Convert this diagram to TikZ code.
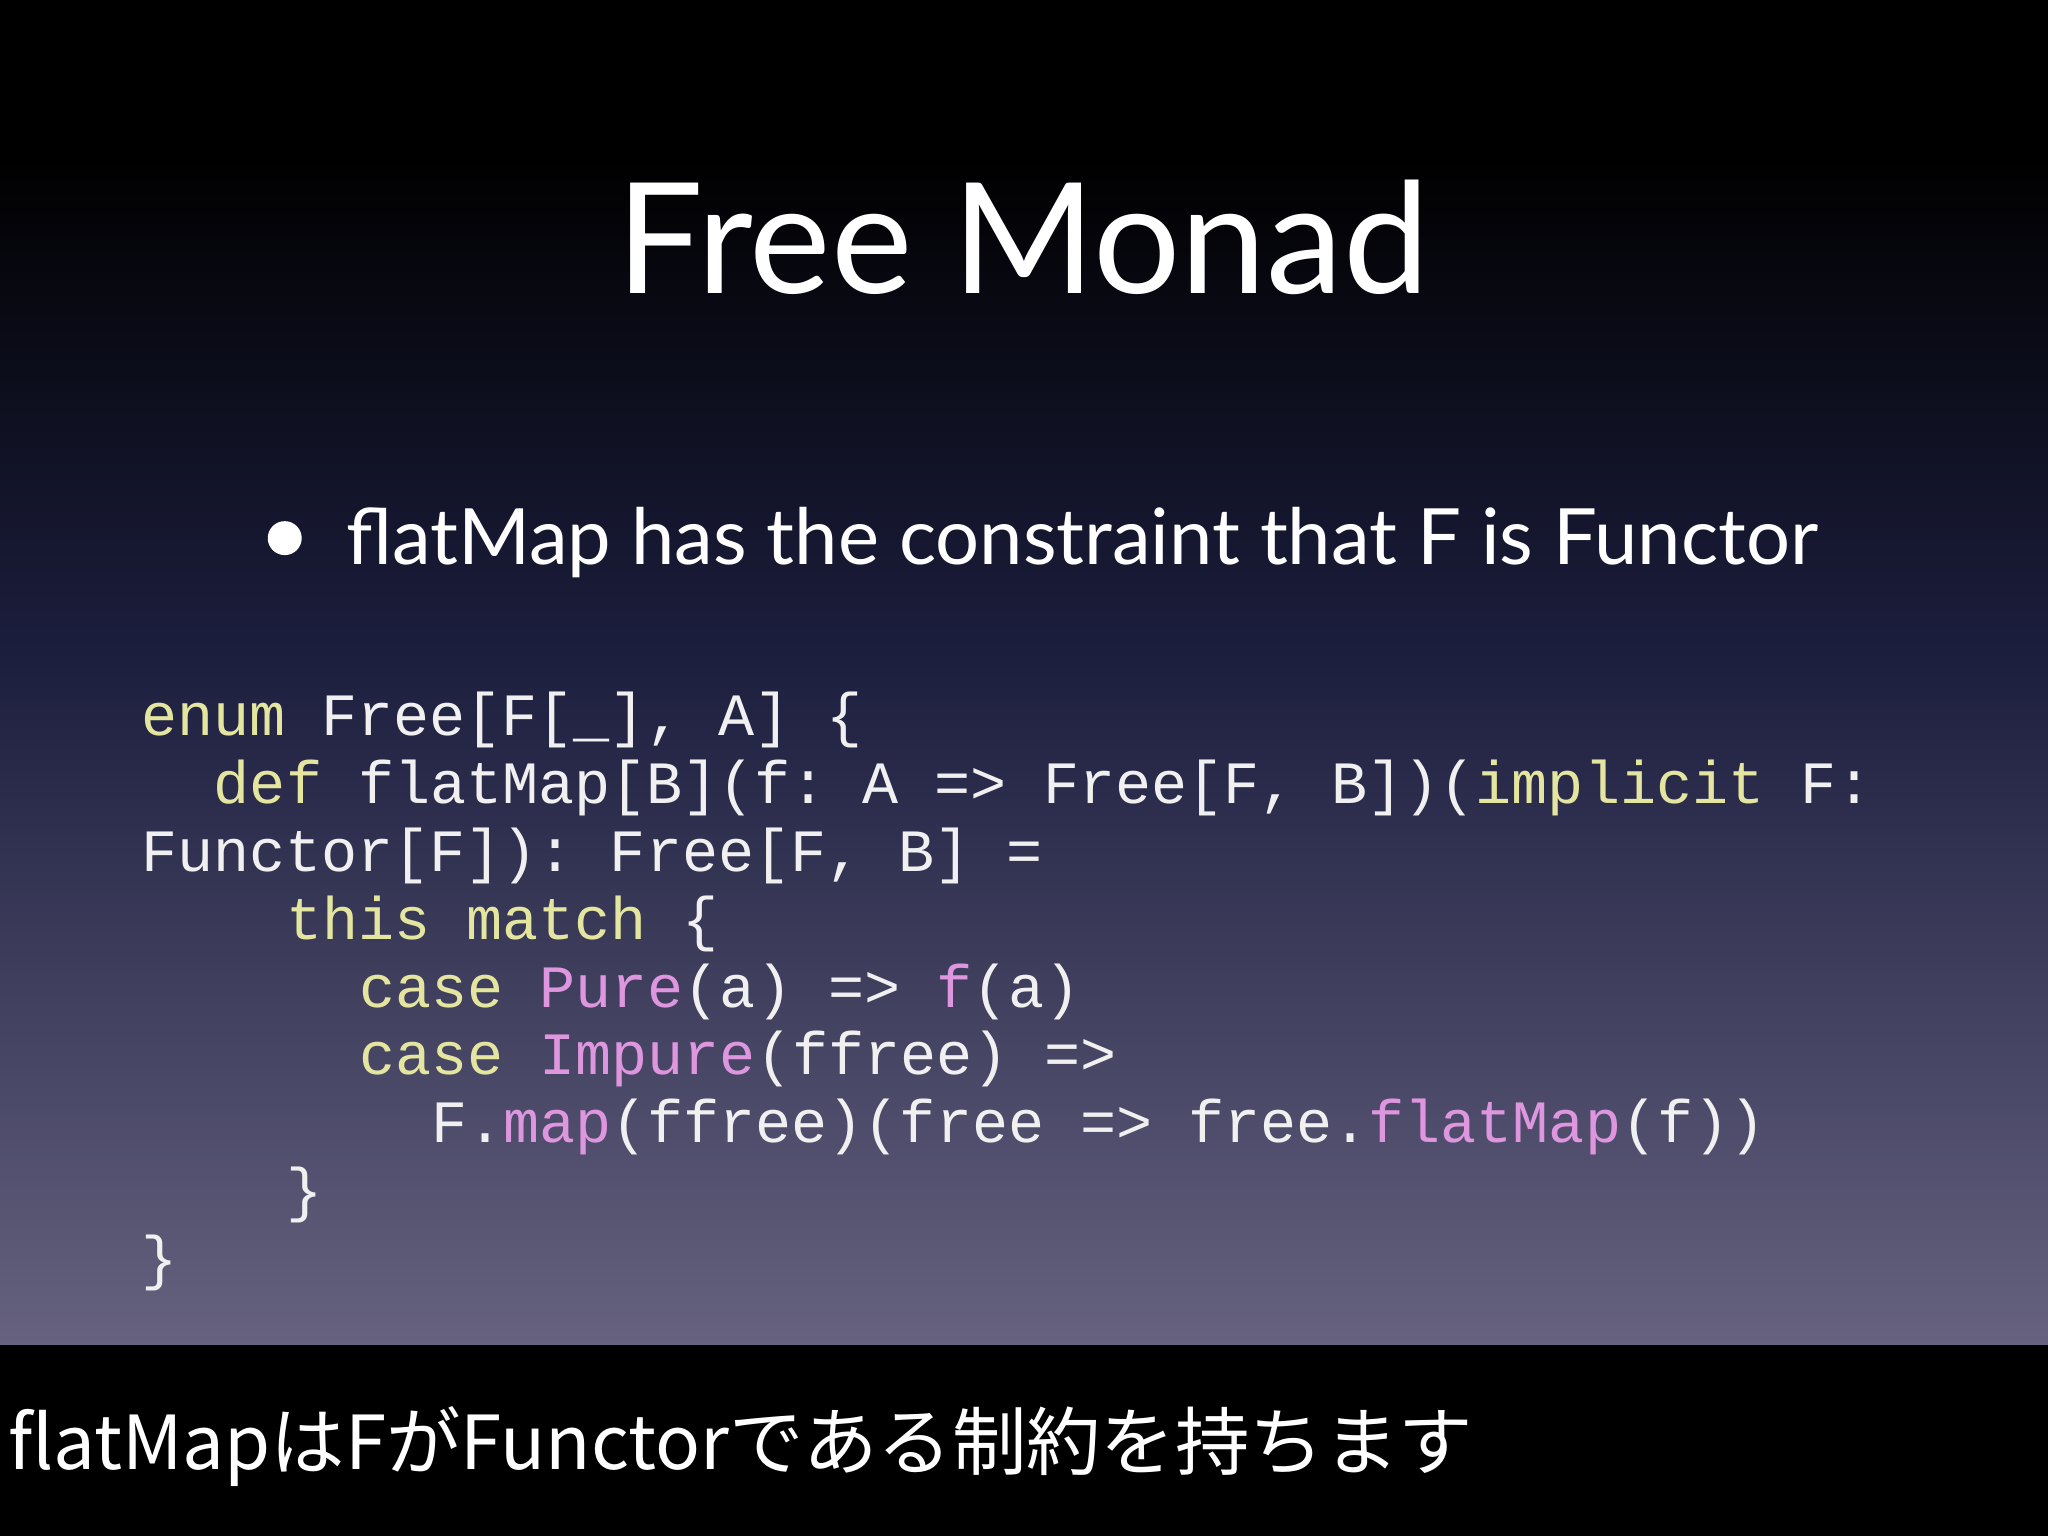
\documentclass[tikz,border=0pt]{standalone}
\usepackage{fontspec}
\setmainfont{Lato}
\setmonofont{Liberation Mono}
\newfontfamily\cjk{Noto Sans CJK JP}
\definecolor{kw}{RGB}{228,230,160}
\definecolor{pk}{RGB}{222,150,222}
\definecolor{tx}{RGB}{240,240,240}
\definecolor{bgtop}{RGB}{0,0,0}
\definecolor{bgmid}{RGB}{28,30,62}
\definecolor{bgbot}{RGB}{102,98,128}
\tikzset{code/.style={anchor=base west,inner sep=0,text=tx,font=\ttfamily\fontsize{46}{46}\selectfont}}
\newcommand{\K}[1]{\textcolor{kw}{#1}}
\newcommand{\Pk}[1]{\textcolor{pk}{#1}}
\begin{document}
\begin{tikzpicture}[x=1pt,y=-1pt]
\useasboundingbox (0,0) rectangle (1568,1176);
\fill[bgtop] (0,0) rectangle (1568,120);
\shade[top color=bgtop,bottom color=bgmid] (0,119) rectangle (1568,500);
\shade[top color=bgmid,bottom color=bgbot] (0,499) rectangle (1568,1031);
\fill[black] (0,1030) rectangle (1568,1176);
\node[anchor=base,inner sep=0,text=white,font=\fontsize{118}{118}\selectfont] (title) at (783,225) {Free Monad};
\node[circle,fill=white,inner sep=0,minimum size=26] (dot) at (218,412) {};
\node[anchor=base west,inner sep=0,text=white,font=\fontsize{59.5}{59.5}\selectfont] (bullet) at (265,432) {flatMap has the constraint that F is Functor};
\node[code] (l1) at (108,563) {\K{enum} Free[F[\_], A] \{};
\node[code] (l2) at (163.6,615) {\K{def} flatMap[B](f: A => Free[F, B])(\K{implicit} F:};
\node[code] (l3) at (108,667) {Functor[F]): Free[F, B] =};
\node[code] (l4) at (219,719) {\K{this} \K{match} \{};
\node[code] (l5) at (275,771) {\K{case} \Pk{Pure}(a) => \Pk{f}(a)};
\node[code] (l6) at (275,823) {\K{case} \Pk{Impure}(ffree) =>};
\node[code] (l7) at (330,875) {F.\Pk{map}(ffree)(free => free.\Pk{flatMap}(f))};
\node[code] (l8) at (219,927) {\}};
\node[code] (l9) at (108,979) {\}};
\node[anchor=base west,inner sep=0,text=white,font=\cjk\fontsize{57}{57}\selectfont] (sub) at (6,1125) {flatMapはFがFunctorである制約を持ちます};
\end{tikzpicture}
\end{document}
